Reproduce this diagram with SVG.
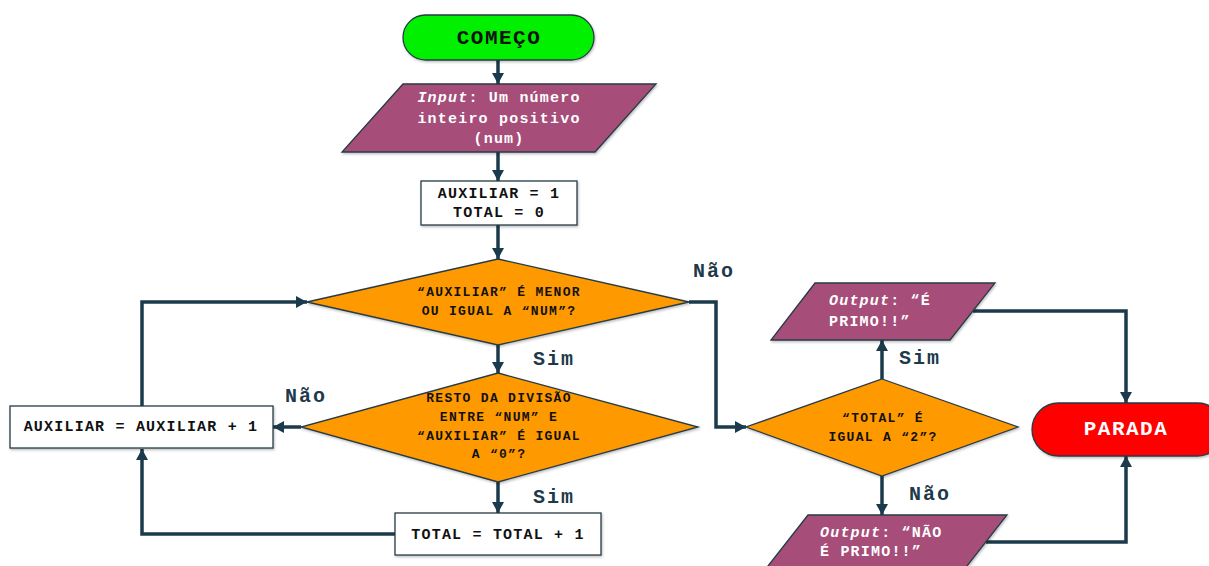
<svg xmlns="http://www.w3.org/2000/svg" width="1209" height="566" viewBox="0 0 1209 566">
  <defs>
    <marker id="arrow" markerUnits="userSpaceOnUse" markerWidth="14" markerHeight="14" refX="11" refY="6" orient="auto">
      <path d="M0,0 L11,6 L0,12 Z" fill="#1b3a4b"/>
    </marker>
    <filter id="shadow" x="-10%" y="-10%" width="130%" height="140%">
      <feDropShadow dx="1" dy="1.5" stdDeviation="1.2" flood-color="#000" flood-opacity="0.25"/>
    </filter>
    <style>
      .shape { stroke: #263b46; stroke-width: 1.3; filter: url(#shadow); }
      .term-start { fill: #00f000; }
      .term-stop { fill: #ff0000; }
      .io { fill: #a64d79; }
      .proc { fill: #ffffff; }
      .dec { fill: #ff9900; }
      .conn { fill: none; stroke: #1b3a4b; stroke-width: 3.5; stroke-linejoin: miter; }
      text { font-family: "Liberation Mono", "Courier New", monospace; font-weight: bold; }
      .box { font-size: 15px; letter-spacing: 1.2px; fill: #111; text-anchor: middle; }
      .io-t { font-size: 15px; letter-spacing: 1.2px; fill: #ffffff; }
      .dec-t { font-size: 13px; letter-spacing: 1.3px; fill: #111; text-anchor: middle; }
      .lbl { font-size: 20px; letter-spacing: 2px; fill: #1e3a4a; }
      .title { font-size: 21px; letter-spacing: 1.5px; text-anchor: middle; font-family: "Liberation Mono", "Courier New", monospace; }
      .it { font-style: italic; }
    </style>
  </defs>

  <!-- connectors -->
  <g id="connectors">
    <path class="conn" d="M498,60 V84" marker-end="url(#arrow)"/>
    <path class="conn" d="M498,152 V181" marker-end="url(#arrow)"/>
    <path class="conn" d="M498,225 V259" marker-end="url(#arrow)"/>
    <path class="conn" d="M498,345 V373" marker-end="url(#arrow)"/>
    <path class="conn" d="M301,427 H273" marker-end="url(#arrow)"/>
    <path class="conn" d="M498,482 V513" marker-end="url(#arrow)"/>
    <path class="conn" d="M395,534 H142 V449" marker-end="url(#arrow)"/>
    <path class="conn" d="M142,406 V302 H307" marker-end="url(#arrow)"/>
    <path class="conn" d="M689,302 H716 V427 H746" marker-end="url(#arrow)"/>
    <path class="conn" d="M882,379 V340" marker-end="url(#arrow)"/>
    <path class="conn" d="M882,476 V515" marker-end="url(#arrow)"/>
    <path class="conn" d="M973,311 H1126 V403" marker-end="url(#arrow)"/>
    <path class="conn" d="M986,542 H1126 V456" marker-end="url(#arrow)"/>
  </g>

  <!-- edge labels -->
  <g id="labels">
    <text class="lbl" x="533" y="365">Sim</text>
    <text class="lbl" x="285" y="402">Não</text>
    <text class="lbl" x="533" y="503">Sim</text>
    <text class="lbl" x="693" y="277">Não</text>
    <text class="lbl" x="899" y="364">Sim</text>
    <text class="lbl" x="909" y="500">Não</text>
  </g>

  <g id="start">
    <rect class="shape term-start" x="403" y="15" width="191" height="45" rx="22.5"/>
    <text class="title" x="499" y="44" fill="#111">COMEÇO</text>
  </g>

  <g id="input">
    <polygon class="shape io" points="403,84 656,84 595,152 342,152"/>
    <text class="io-t" x="499" y="101.5" text-anchor="middle"><tspan class="it">Input</tspan>: Um número</text>
    <text class="io-t" x="499" y="122.5" text-anchor="middle">inteiro positivo</text>
    <text class="io-t" x="499" y="142.5" text-anchor="middle">(num)</text>
  </g>

  <g id="init">
    <rect class="shape proc" x="421" y="181" width="156" height="44"/>
    <text class="box" x="499" y="197.5">AUXILIAR = 1</text>
    <text class="box" x="499" y="216.5">TOTAL = 0</text>
  </g>

  <g id="check-aux">
    <polygon class="shape dec" points="498,259 689,302 498,345 307,302"/>
    <text class="dec-t" x="499" y="296">“AUXILIAR” É MENOR</text>
    <text class="dec-t" x="499" y="315">OU IGUAL A “NUM”?</text>
  </g>

  <g id="check-mod">
    <polygon class="shape dec" points="498,373 698,427 498,482 301,427"/>
    <text class="dec-t" x="499" y="402">RESTO DA DIVISÃO</text>
    <text class="dec-t" x="499" y="421">ENTRE “NUM” E</text>
    <text class="dec-t" x="499" y="440">“AUXILIAR” É IGUAL</text>
    <text class="dec-t" x="499" y="458">A “0”?</text>
  </g>

  <g id="inc-aux">
    <rect class="shape proc" x="10" y="406" width="263" height="42"/>
    <text class="box" x="141" y="430.5">AUXILIAR = AUXILIAR + 1</text>
  </g>

  <g id="inc-total">
    <rect class="shape proc" x="395" y="513" width="206" height="42"/>
    <text class="box" x="498" y="538.5">TOTAL = TOTAL + 1</text>
  </g>

  <g id="check-total">
    <polygon class="shape dec" points="882,379 1018,427 882,476 746,427"/>
    <text class="dec-t" x="883" y="422">“TOTAL” É</text>
    <text class="dec-t" x="883" y="441">IGUAL A “2”?</text>
  </g>

  <g id="out-prime">
    <polygon class="shape io" points="815,283 995,283 950,340 771,340"/>
    <text class="io-t" x="829" y="305"><tspan class="it">Output</tspan>: “É</text>
    <text class="io-t" x="829" y="326">PRIMO!!”</text>
  </g>

  <g id="out-not-prime">
    <polygon class="shape io" points="808,515 1007,515 956,580 757,580"/>
    <text class="io-t" x="820" y="536.5"><tspan class="it">Output</tspan>: “NÃO</text>
    <text class="io-t" x="820" y="555.5">É PRIMO!!”</text>
  </g>

  <g id="stop">
    <rect class="shape term-stop" x="1032" y="403" width="192" height="53" rx="26.5"/>
    <text class="title" x="1126" y="435" fill="#ffffff">PARADA</text>
  </g>
</svg>
